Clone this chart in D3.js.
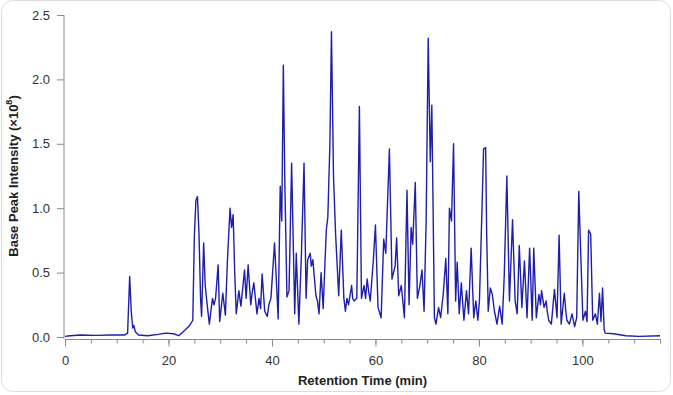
<!DOCTYPE html>
<html>
<head>
<meta charset="utf-8">
<script src="https://cdn.jsdelivr.net/npm/d3@7"></script>
<style>
  html, body { margin: 0; padding: 0; background: #fff; }
  text { font-family: "Liberation Sans", Arial, sans-serif; }
</style>
</head>
<body>
<svg id="chart"></svg>
<script>
// chromatogram: retention time (min) / base peak intensity (x10^8)
// each line of times matches the same line of intensity
const times = [
  0, 1, 3, 6, 9, 11.5, 12.1, 12.5, 12.8, 13.1, 13.3, 13.6, 14.2, 16, 18, 19.5, 21, 22, 23.1, 24.1,
  24.7, 25.0, 25.3, 25.6, 25.9, 26.2, 26.4, 26.8, 27.1, 27.4, 27.9, 28.2, 28.5, 28.8, 29.1, 29.6, 29.9, 30.5, 31.0, 31.4,
  31.9, 32.2, 32.5, 32.8, 33.1, 33.3, 33.6, 34.0, 34.7, 35.0, 35.4, 35.9, 36.2, 36.5, 36.8, 37.1, 37.5, 37.8, 38.1, 38.6,
  39.1, 39.4, 39.8, 40.5, 40.9, 41.2, 41.6, 41.9, 42.2, 42.5, 42.9, 43.3, 43.8, 44.4, 44.7, 45.2, 45.7, 46.2, 46.6, 46.9,
  47.4, 47.6, 47.9, 48.5, 48.8, 49.1, 49.5, 49.9, 50.5, 50.8, 51.2, 51.5, 51.9, 52.3, 52.9, 53.4, 53.9, 54.2, 54.5, 54.8,
  55.4, 55.6, 55.9, 56.4, 56.9, 57.3, 57.8, 58.1, 58.4, 58.7, 59.0, 59.6, 60.0, 60.5, 61.1, 61.6, 62.0, 62.7, 63.2, 63.8,
  64.1, 64.5, 65.0, 65.6, 66.1, 66.5, 66.9, 67.2, 67.7, 68.1, 68.6, 69.0, 69.4, 69.8, 70.2, 70.6, 70.9, 71.4, 71.7, 72.2,
  72.6, 73.1, 73.6, 74.0, 74.3, 74.7, 75.1, 75.5, 75.8, 76.2, 76.6, 76.8, 77.1, 77.6, 78.0, 78.5, 79.0, 79.4, 79.8, 80.1,
  80.6, 80.9, 81.3, 81.5, 81.8, 82.2, 82.6, 83.0, 83.5, 84.0, 84.5, 84.9, 85.4, 85.9, 86.5, 87.0, 87.4, 87.8, 88.3, 88.8,
  89.3, 89.8, 90.3, 90.6, 91.1, 91.6, 91.9, 92.1, 92.6, 93.0, 93.2, 93.5, 94.0, 94.6, 95.1, 95.5, 95.9, 96.5, 96.8, 97.0,
  97.5, 97.8, 98.0, 98.5, 98.9, 99.3, 99.8, 100.1, 100.6, 100.9, 101.2, 101.6, 102.0, 102.5, 102.9, 103.3, 103.6, 103.9, 104.2, 104.4,
  106, 108.4, 111, 115
];
const intensity = [
  0.005, 0.01, 0.015, 0.013, 0.015, 0.015, 0.03, 0.47, 0.2, 0.07, 0.09, 0.04, 0.015, 0.01, 0.02, 0.03, 0.025, 0.01, 0.05, 0.09,
  0.13, 0.78, 1.06, 1.09, 0.8, 0.3, 0.16, 0.73, 0.4, 0.28, 0.1, 0.2, 0.3, 0.25, 0.3, 0.56, 0.12, 0.34, 0.17, 0.6,
  1.0, 0.85, 0.95, 0.5, 0.18, 0.25, 0.36, 0.24, 0.52, 0.3, 0.56, 0.25, 0.35, 0.42, 0.3, 0.18, 0.3, 0.22, 0.49, 0.2,
  0.16, 0.25, 0.3, 0.73, 0.4, 0.14, 1.17, 0.9, 2.11, 1.17, 0.31, 0.36, 1.35, 0.18, 0.65, 0.1, 0.65, 1.35, 0.3, 0.6,
  0.65, 0.55, 0.6, 0.32, 0.28, 0.18, 0.5, 0.22, 0.83, 0.93, 1.5, 2.37, 1.24, 0.8, 0.32, 0.83, 0.3, 0.2, 0.3, 0.25,
  0.4, 0.3, 0.28, 0.3, 1.79, 0.3, 0.4, 0.3, 0.45, 0.35, 0.28, 0.6, 0.87, 0.23, 0.15, 0.76, 0.65, 1.46, 0.45, 0.55,
  0.77, 0.32, 0.4, 0.15, 1.14, 0.25, 0.85, 0.72, 1.2, 0.3, 0.4, 0.52, 0.2, 0.9, 2.32, 1.36, 1.8, 0.15, 0.1, 0.23,
  0.15, 0.33, 0.61, 0.18, 1.0, 0.9, 1.5, 0.28, 0.58, 0.18, 0.42, 0.3, 0.13, 0.36, 0.18, 0.69, 0.15, 0.28, 0.13, 0.28,
  1.0, 1.46, 1.47, 0.8, 0.2, 0.38, 0.33, 0.2, 0.1, 0.24, 0.1, 0.48, 1.25, 0.28, 0.91, 0.28, 0.18, 0.71, 0.23, 0.59,
  0.15, 0.69, 0.13, 0.69, 0.15, 0.33, 0.25, 0.36, 0.23, 0.28, 0.2, 0.13, 0.1, 0.37, 0.15, 0.79, 0.1, 0.34, 0.2, 0.13,
  0.1, 0.15, 0.18, 0.08, 0.15, 1.13, 0.5, 0.13, 0.2, 0.12, 0.83, 0.8, 0.13, 0.18, 0.1, 0.34, 0.12, 0.38, 0.06, 0.03,
  0.025, 0.01, 0.005, 0.01
];
const xTicks = [0, 20, 40, 60, 80, 100];
const xMinorTicks = d3.range(0, 116, 5);
const yTicks = [0, 0.5, 1.0, 1.5, 2.0, 2.5];

const width = 673;
const height = 395;

const svg = d3.select("#chart").attr("width", width).attr("height", height);

// rounded frame round the figure
svg.append("rect")
  .attr("x", 1.5).attr("y", 0.5)
  .attr("width", 669).attr("height", 391)
  .attr("rx", 11)
  .attr("fill", "#fff")
  .attr("stroke", "#dcdcdc");

const x = d3.scaleLinear().domain([0, 115]).range([65, 660]);
const y = d3.scaleLinear().domain([0, 2.5]).range([337, 15]);

const axisColor = "#8a8a8a";

// x axis: minor ticks then major ticks with labels
const xAxisY = 339;
const xg = svg.append("g").attr("transform", `translate(0,${xAxisY})`);
xg.call(d3.axisBottom(x).tickValues(xMinorTicks).tickSize(4.5).tickSizeOuter(0).tickFormat(""));
xg.append("g").call(d3.axisBottom(x).tickValues(xTicks).tickSize(7.5).tickSizeOuter(0).tickPadding(9).tickFormat(d3.format("d")));
xg.selectAll("path, line").attr("stroke", axisColor);
xg.selectAll("text").attr("fill", "#333").attr("font-size", 13);

// y axis
const yg = svg.append("g").attr("transform", "translate(64,0)");
yg.call(d3.axisLeft(y).tickValues(yTicks).tickSize(7).tickSizeOuter(0).tickPadding(7).tickFormat(d3.format(".1f")));
yg.select(".domain").attr("d", `M0,${y(2.5)}V${xAxisY}`);
yg.selectAll("path, line").attr("stroke", axisColor);
yg.selectAll("text").attr("fill", "#333").attr("font-size", 13);

// chromatogram trace
const pts = times.map((t, i) => ({ t: t, v: intensity[i] }));
svg.append("path")
  .datum(pts)
  .attr("fill", "none")
  .attr("stroke", "#1e1eac")
  .attr("stroke-width", 1.4)
  .attr("stroke-linejoin", "round")
  .attr("d", d3.line().x(d => x(d.t)).y(d => y(d.v)));

// axis titles
svg.append("text")
  .attr("x", (x(0) + x(115)) / 2)
  .attr("y", 385)
  .attr("text-anchor", "middle")
  .attr("font-size", 13)
  .attr("font-weight", "bold")
  .attr("fill", "#222")
  .text("Retention Time (min)");

const yt = svg.append("text")
  .attr("transform", `translate(18,${(y(0) + y(2.5)) / 2}) rotate(-90)`)
  .attr("text-anchor", "middle")
  .attr("font-size", 13)
  .attr("font-weight", "bold")
  .attr("fill", "#222");
yt.append("tspan").text("Base Peak Intensity (×10");
yt.append("tspan").attr("dy", -6).attr("font-size", 9).text("8");
yt.append("tspan").attr("dy", 6).text(")");
</script>
</body>
</html>
